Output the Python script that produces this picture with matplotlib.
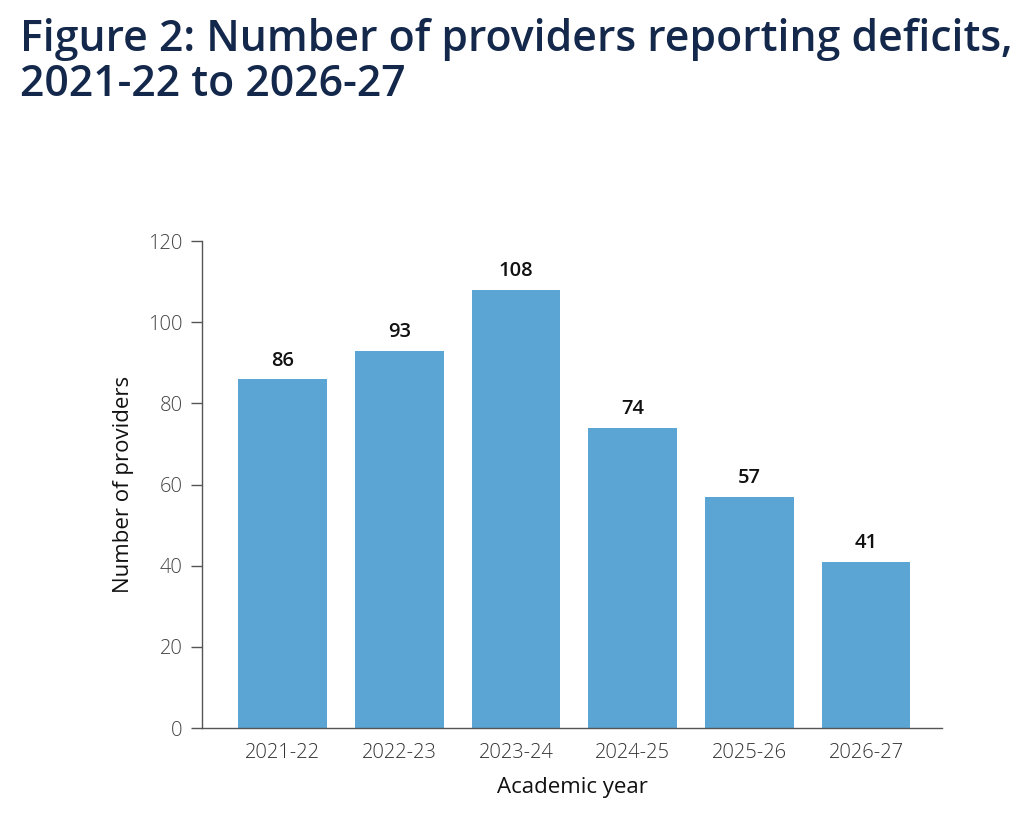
import matplotlib
matplotlib.use("Agg")
import matplotlib.pyplot as plt

years = ["2021-22", "2022-23", "2023-24", "2024-25", "2025-26", "2026-27"]
providers = [86, 93, 108, 74, 57, 41]
y_ticks = [0, 20, 40, 60, 80, 100, 120]

bar_color = "#5aa5d4"
title_color = "#14284b"

plt.rcParams["font.family"] = ["Open Sans", "DejaVu Sans"]

fig = plt.figure(figsize=(10.27, 8.19), dpi=100)
ax = fig.add_axes([0.1967, 0.1111, 0.7205, 0.5946])

x = range(len(years))
bars = ax.bar(x, providers, width=0.76, color=bar_color, zorder=2)
for xi, v in zip(x, providers):
    ax.annotate(str(v), (xi, v), xytext=(0, 6), textcoords="offset points",
                ha="center", va="bottom", fontsize=14.5, color="#111111",
                fontweight="semibold")

ax.set_xlim(-0.69, 5.65)
ax.set_ylim(0, 120)
ax.set_xticks(list(x))
ax.set_xticklabels(years, fontsize=14.5, color="#333333", fontweight="light")
ax.set_yticks(y_ticks)
ax.set_yticklabels([str(t) for t in y_ticks], fontsize=14.5, color="#444444", fontweight="light")
ax.tick_params(axis="x", length=0, pad=11)
ax.tick_params(axis="y", length=8, width=1, color="#555555", pad=6)

for s in ["top", "right"]:
    ax.spines[s].set_visible(False)
for s in ["left", "bottom"]:
    ax.spines[s].set_color("#555555")
    ax.spines[s].set_linewidth(1)

ax.set_ylabel("Number of providers", fontsize=16, color="#111111", labelpad=10)
ax.set_xlabel("Academic year", fontsize=16, color="#111111", labelpad=10)

fig.text(0.019, 0.978, "Figure 2: Number of providers reporting deficits,\n2021-22 to 2026-27",
         fontsize=30.8, fontweight="semibold", color=title_color, va="top", ha="left",
         linespacing=1.05)

fig.savefig("out.png", dpi=100)
